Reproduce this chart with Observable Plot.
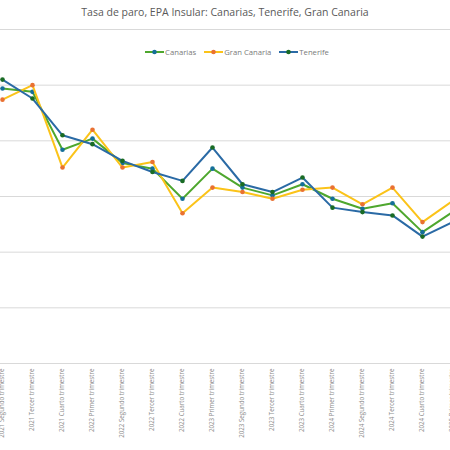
<!DOCTYPE html>
<html>
<head>
<meta charset="utf-8">
<script src="https://cdn.jsdelivr.net/npm/d3@7"></script>
<script src="https://cdn.jsdelivr.net/npm/@observablehq/plot@0.6"></script>
<style>
  html, body { margin: 0; padding: 0; background: #fff; overflow: hidden; }
  #wrap { position: relative; width: 450px; height: 450px; font-family: 'Open Sans', 'Noto Sans', sans-serif; }
  #title { height: 26px; line-height: 24px; text-align: center; font-size: 10.5px; color: #595959; }
  #legend { position: absolute; top: 47px; left: 12px; width: 450px; text-align: center; font-size: 7.7px; color: #7a7a7a; }
  #legend span.item { display: inline-flex; align-items: center; margin: 0 4px; }
  #legend svg { margin-right: 1px; }
</style>
</head>
<body>
<div id="wrap">
  <div id="title">Tasa de paro, EPA Insular: Canarias, Tenerife, Gran Canaria</div>
  <div id="chart"></div>
  <div id="legend"></div>
</div>
<script>
  /* ---- Datos ---- */
  const quarters = [
    '2021 Segundo trimestre', '2021 Tercer trimestre', '2021 Cuarto trimestre',
    '2022 Primer trimestre', '2022 Segundo trimestre', '2022 Tercer trimestre', '2022 Cuarto trimestre',
    '2023 Primer trimestre', '2023 Segundo trimestre', '2023 Tercer trimestre', '2023 Cuarto trimestre',
    '2024 Primer trimestre', '2024 Segundo trimestre', '2024 Tercer trimestre', '2024 Cuarto trimestre',
    '2025 Primer trimestre'
  ];
  const canarias    = [24.7, 24.4, 19.2, 20.2, 18.0, 17.5, 14.8, 17.5, 15.8, 15.1, 16.1, 14.8, 13.9, 14.4, 11.8, 13.6];
  const granCanaria = [23.7, 25.0, 17.6, 21.0, 17.6, 18.1, 13.5, 15.8, 15.4, 14.8, 15.6, 15.8, 14.3, 15.8, 12.7, 14.6];
  const tenerife    = [25.5, 23.8, 20.5, 19.7, 18.2, 17.2, 16.4, 19.4, 16.1, 15.4, 16.7, 14.0, 13.6, 13.3, 11.4, 12.7];
  const yTicks = [0, 5, 10, 15, 20, 25, 30];

  const series = [
    { name: 'Canarias',     values: canarias,    line: '#4ea72e', marker: '#156f99' },
    { name: 'Gran Canaria', values: granCanaria, line: '#fbc319', marker: '#e97132' },
    { name: 'Tenerife',     values: tenerife,    line: '#2a6aa5', marker: '#196b24' }
  ];

  const marks = [
    Plot.ruleY(yTicks.slice(1), { stroke: '#d9d9d9', strokeWidth: 1 }),
    Plot.ruleY([0], { stroke: '#d9d9d9', strokeWidth: 1 }),
    Plot.axisX({ tickSize: 0, tickPadding: 5, tickRotate: -90, fontSize: 6.2, fill: '#8c8c8c', label: null })
  ];
  series.forEach(s => {
    const rows = quarters.map((q, i) => ({ q, v: s.values[i] }));
    marks.push(Plot.line(rows, { x: 'q', y: 'v', stroke: s.line, strokeWidth: 2 }));
    marks.push(Plot.dot(rows, { x: 'q', y: 'v', fill: s.marker, r: 2.3 }));
  });

  const chart = Plot.plot({
    width: 450,
    height: 424,
    marginTop: 3,
    marginBottom: 87,
    marginLeft: 0,
    marginRight: 0,
    style: { fontFamily: "'Open Sans', 'Noto Sans', sans-serif", color: '#8c8c8c', overflow: 'hidden' },
    x: { type: 'point', domain: quarters, range: [2, 452], padding: 0 },
    y: { domain: [0, 30], axis: null },
    marks
  });
  document.getElementById('chart').appendChild(chart);

  /* ---- Leyenda ---- */
  const legend = document.getElementById('legend');
  series.forEach(s => {
    const item = document.createElement('span');
    item.className = 'item';
    item.innerHTML = `<svg width="19" height="6"><line x1="0" y1="3" x2="19" y2="3" stroke="${s.line}" stroke-width="2"/><circle cx="9.5" cy="3" r="2.3" fill="${s.marker}"/></svg>${s.name}`;
    legend.appendChild(item);
  });
</script>
</body>
</html>
